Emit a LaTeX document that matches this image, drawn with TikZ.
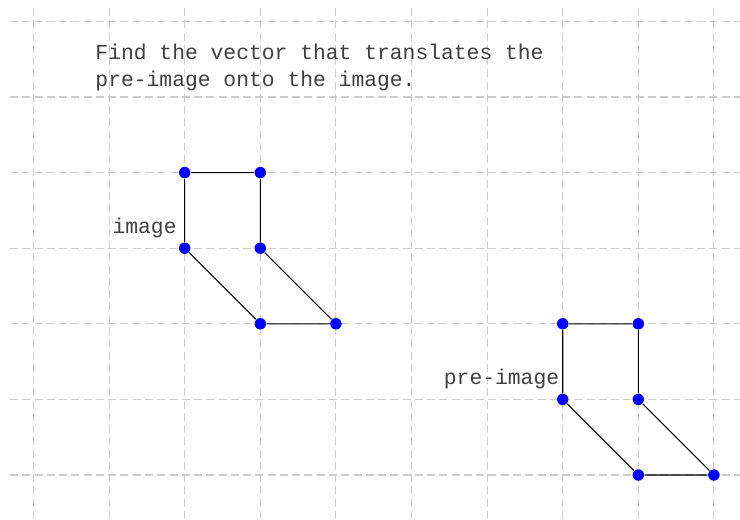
\documentclass[tikz,border=0pt]{standalone}
\usepackage{fontspec}
\setmonofont{Liberation Mono}
\begin{document}
\begin{tikzpicture}[x=75.6/2.6667pt*1, y=75.6/2.6667pt*1,
  gridline/.style={draw=black!20, line width=0.4pt, dash pattern=on 3pt off 1.6pt},
  edge/.style={draw=black, line width=0.4pt},
  dot/.style={circle, fill=blue, inner sep=0pt, minimum size=4.3pt},
  lbl/.style={font=\ttfamily\fontsize{8}{9.75}\selectfont, text=black!75, inner sep=0pt}]
\useasboundingbox (-0.443,-0.582) rectangle (9.345,6.283);
\foreach \i in {0,...,9} \draw[gridline] (\i,-0.582) -- (\i,6.19);
\foreach \j in {0,...,6} \draw[gridline] (-0.31,\j) -- (9.345,\j);
% image
\node[dot] (a1) at (2,4) {};
\node[dot] (a2) at (3,4) {};
\node[dot] (a3) at (3,3) {};
\node[dot] (a4) at (4,2) {};
\node[dot] (a5) at (3,2) {};
\node[dot] (a6) at (2,3) {};
% pre-image
\node[dot] (b1) at (7,2) {};
\node[dot] (b2) at (8,2) {};
\node[dot] (b3) at (8,1) {};
\node[dot] (b4) at (9,0) {};
\node[dot] (b5) at (8,0) {};
\node[dot] (b6) at (7,1) {};
\draw[edge] (a1) -- (a2) -- (a3) -- (a4) -- (a5) -- (a6) -- (a1);
\draw[edge] (b1) -- (b2) -- (b3) -- (b4) -- (b5) -- (b6) -- (b1);
\node[lbl, anchor=east] (limg) at (1.9,3.27) {image};
\node[lbl, anchor=east] (lpre) at (6.96,1.27) {pre-image};
\node[lbl, anchor=base west] (t1) at (0.813,5.49) {Find the vector that translates the};
\node[lbl, anchor=base west] (t2) at (0.813,5.145) {pre-image onto the image.};
\end{tikzpicture}
\end{document}
